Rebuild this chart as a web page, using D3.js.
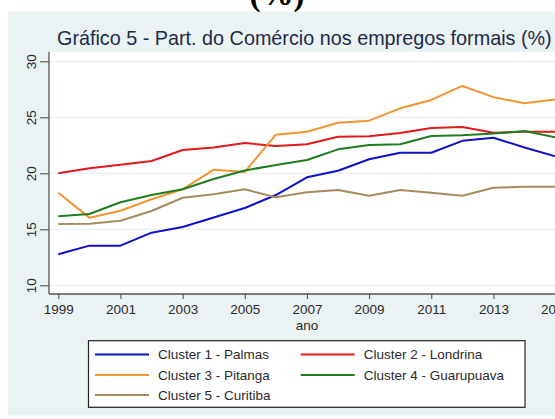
<!DOCTYPE html>
<html>
<head>
<meta charset="utf-8">
<script src="https://cdn.jsdelivr.net/npm/d3@7"></script>
<style>
  body { margin: 0; background: #fff; }
  text { font-family: "Liberation Sans", Arial, sans-serif; }
</style>
</head>
<body>
<div id="chart"></div>
<script>
var svgWidth = 555;
var svgHeight = 419;

// Data
var years = [1999, 2000, 2001, 2002, 2003, 2004, 2005, 2006, 2007, 2008, 2009, 2010, 2011, 2012, 2013, 2014, 2015];
var palmas = [12.77, 13.54, 13.54, 14.7, 15.2, 16.05, 16.9, 18.06, 19.64, 20.23, 21.25, 21.84, 21.84, 22.9, 23.18, 22.3, 21.5];
var londrina = [20.0, 20.45, 20.77, 21.1, 22.08, 22.3, 22.7, 22.44, 22.59, 23.27, 23.3, 23.6, 24.05, 24.14, 23.63, 23.71, 23.71];
var pitanga = [18.27, 16.04, 16.66, 17.68, 18.57, 20.32, 20.12, 23.45, 23.71, 24.52, 24.7, 25.8, 26.55, 27.8, 26.8, 26.25, 26.6];
var guarapuava = [16.16, 16.37, 17.41, 18.06, 18.57, 19.49, 20.25, 20.74, 21.19, 22.14, 22.53, 22.6, 23.33, 23.4, 23.55, 23.77, 23.2];
var curitiba = [15.47, 15.5, 15.77, 16.63, 17.82, 18.13, 18.57, 17.86, 18.3, 18.5, 18.0, 18.5, 18.27, 18.0, 18.71, 18.8, 18.8];

var yTicks = [10, 15, 20, 25, 30];
var xTicks = [1999, 2001, 2003, 2005, 2007, 2009, 2011, 2013, 2015];

var seriesNames = ["Cluster 1 - Palmas", "Cluster 2 - Londrina", "Cluster 3 - Pitanga", "Cluster 4 - Guarupuava", "Cluster 5 - Curitiba"];
var seriesValues = [palmas, londrina, pitanga, guarapuava, curitiba];
var seriesColors = ["#1010c8", "#e01a1a", "#f29430", "#1e7d1e", "#a38d5e"];

var svg = d3.select("#chart")
  .append("svg")
  .attr("width", svgWidth)
  .attr("height", svgHeight);

// light panel behind everything
svg.append("rect")
  .attr("x", 8)
  .attr("y", 11.5)
  .attr("width", svgWidth)
  .attr("height", 404)
  .attr("fill", "#eaf2f3");

// cut-off heading from the page above
svg.append("text")
  .attr("x", 277)
  .attr("y", 5)
  .attr("text-anchor", "middle")
  .style("font-family", "'Liberation Serif', 'Times New Roman', serif")
  .style("font-weight", "bold")
  .style("font-size", "33px")
  .attr("fill", "#000")
  .text("(%)");

svg.append("text")
  .attr("x", 57)
  .attr("y", 44.5)
  .style("font-size", "19.8px")
  .attr("fill", "#1e2b48")
  .text("Gráfico 5 - Part. do Comércio nos empregos formais (%)");

// scales
var xScale = d3.scaleLinear()
  .domain([1999, 2015])
  .range([58.3, 555.6]);

var yScale = d3.scaleLinear()
  .domain([10, 30])
  .range([285.3, 61.3]);

var plotTop = 51.7;
var plotBottom = 294;
var plotLeft = 49;

// white plot region
svg.append("rect")
  .attr("x", plotLeft)
  .attr("y", plotTop)
  .attr("width", svgWidth - plotLeft + 20)
  .attr("height", plotBottom - plotTop)
  .attr("fill", "#fff");

// gridlines
svg.append("g")
  .selectAll("line")
  .data(yTicks)
  .enter()
  .append("line")
  .attr("x1", plotLeft)
  .attr("x2", svgWidth + 20)
  .attr("y1", d => yScale(d))
  .attr("y2", d => yScale(d))
  .attr("stroke", "#eaf0f3")
  .attr("stroke-width", 1.2);

// y axis
var leftAxis = d3.axisLeft(yScale)
  .tickValues(yTicks)
  .tickSize(9)
  .tickPadding(0)
  .tickSizeOuter(0)
  .tickFormat(d3.format("d"));

var yAxis = svg.append("g")
  .attr("transform", `translate(${plotLeft}, 0)`)
  .call(leftAxis);

yAxis.select(".domain")
  .attr("d", `M0,${plotTop}V${plotBottom}`)
  .attr("stroke", "#555")
  .attr("stroke-width", 1.3);

yAxis.selectAll(".tick line")
  .attr("stroke", "#444");

yAxis.selectAll(".tick text")
  .attr("x", 0)
  .attr("dy", 0)
  .attr("transform", "translate(-13, 0) rotate(-90)")
  .attr("text-anchor", "middle")
  .style("font-size", "13.5px")
  .attr("fill", "#2a2a2a");

// x axis
var bottomAxis = d3.axisBottom(xScale)
  .tickValues(xTicks)
  .tickSize(5)
  .tickPadding(5)
  .tickSizeOuter(0)
  .tickFormat(d3.format("d"));

var xAxis = svg.append("g")
  .attr("transform", `translate(0, ${plotBottom})`)
  .call(bottomAxis);

xAxis.select(".domain")
  .attr("d", `M${plotLeft},0H${svgWidth + 20}`)
  .attr("stroke", "#555")
  .attr("stroke-width", 1.3);

xAxis.selectAll(".tick line")
  .attr("stroke", "#444");

xAxis.selectAll(".tick text")
  .style("font-size", "13.5px")
  .attr("fill", "#2a2a2a");

svg.append("text")
  .attr("x", xScale(2007))
  .attr("y", 330)
  .attr("text-anchor", "middle")
  .style("font-size", "13.5px")
  .attr("fill", "#2a2a2a")
  .text("ano");

// lines
var line = d3.line()
  .x((d, i) => xScale(years[i]))
  .y(d => yScale(d));

svg.append("g")
  .selectAll("path")
  .data(seriesValues)
  .enter()
  .append("path")
  .attr("d", d => line(d))
  .attr("fill", "none")
  .attr("stroke", (d, i) => seriesColors[i])
  .attr("stroke-width", 2)
  .attr("stroke-linejoin", "round");

// legend
var legendPos = [
  {x: 95, y: 354.5},
  {x: 300.7, y: 354.5},
  {x: 95, y: 375},
  {x: 300.7, y: 375},
  {x: 95, y: 395}
];

svg.append("rect")
  .attr("x", 88.5)
  .attr("y", 340.7)
  .attr("width", 436.5)
  .attr("height", 66.6)
  .attr("fill", "#fff")
  .attr("stroke", "#222")
  .attr("stroke-width", 1.2);

var legendItems = svg.append("g")
  .selectAll("g")
  .data(seriesNames)
  .enter()
  .append("g")
  .attr("transform", (d, i) => `translate(${legendPos[i].x}, ${legendPos[i].y})`);

legendItems.append("line")
  .attr("x1", 0)
  .attr("x2", 54)
  .attr("stroke", (d, i) => seriesColors[i])
  .attr("stroke-width", 2);

legendItems.append("text")
  .attr("x", 63)
  .attr("dy", "0.36em")
  .style("font-size", "13.5px")
  .attr("fill", "#2a2a2a")
  .text(d => d);
</script>
</body>
</html>
